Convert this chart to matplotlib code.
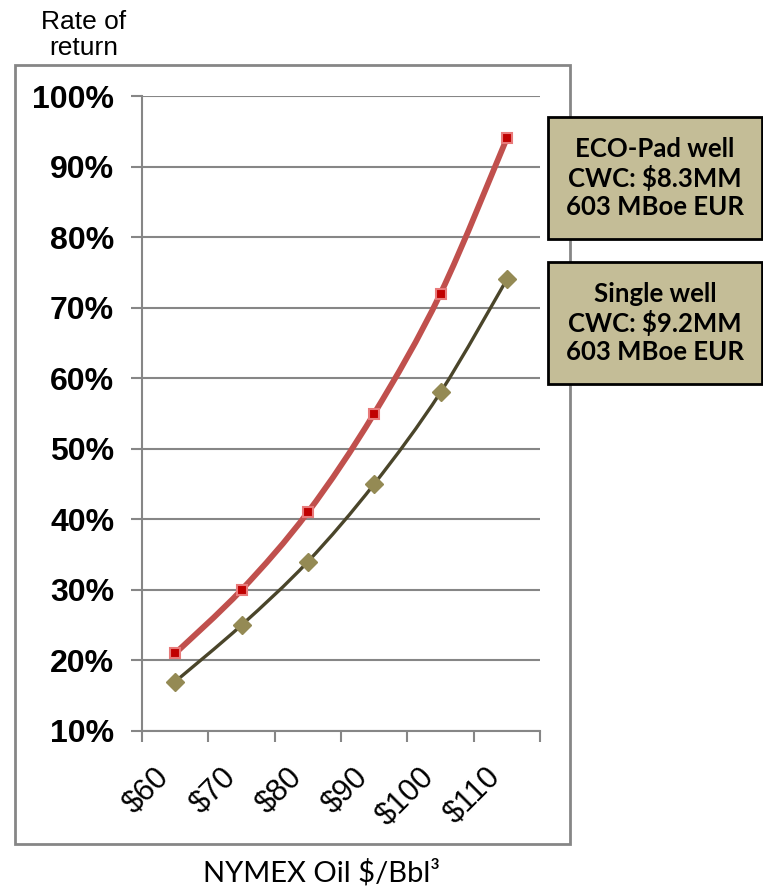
import numpy as np
import matplotlib
matplotlib.use('Agg')
from matplotlib import pyplot as plt
from matplotlib import ticker as mticker
from matplotlib import patches as mpatches
from matplotlib import transforms as mtransforms
from matplotlib.path import Path

# Chart data
prices     = ['$60', '$70', '$80', '$90', '$100', '$110']
eco_pad    = [21, 30, 41, 55, 72, 94]
single     = [17, 25, 34, 45, 58, 74]
box_labels = ['ECO-Pad well\nCWC: $8.3MM\n603 MBoe EUR',
              'Single well\nCWC: $9.2MM\n603 MBoe EUR']

def smooth_path(x, y):
    # Catmull-Rom style bezier through the points (like a spreadsheet "smoothed line")
    x = np.asarray(x, float); y = np.asarray(y, float)
    verts = [(x[0], y[0])]
    codes = [Path.MOVETO]
    n = len(x)
    for i in range(n - 1):
        p0 = (x[max(i - 1, 0)], y[max(i - 1, 0)])
        p1 = (x[i], y[i])
        p2 = (x[i + 1], y[i + 1])
        p3 = (x[min(i + 2, n - 1)], y[min(i + 2, n - 1)])
        c1 = (p1[0] + (p2[0] - p0[0]) / 6, p1[1] + (p2[1] - p0[1]) / 6)
        c2 = (p2[0] - (p3[0] - p1[0]) / 6, p2[1] - (p3[1] - p1[1]) / 6)
        verts += [c1, c2, p2]
        codes += [Path.CURVE4] * 3
    return Path(verts, codes)

def main():
    plt.rcParams['text.parse_math'] = False
    W, H = 763, 890
    fig = plt.figure(figsize=(W / 100, H / 100), dpi=100)
    ax = fig.add_axes([142 / W, 1 - 731 / H, (540 - 142) / W, (731 - 96) / H])

    grey = '#868686'
    x = np.arange(len(prices))

    # Outer chart border
    fig.patches.append(mpatches.Rectangle((15 / W, 1 - 844 / H), (570 - 15) / W, (844 - 65) / H,
                                          transform=fig.transFigure, fill=False,
                                          edgecolor=grey, linewidth=2))

    ax.set_xlim(-0.5, len(prices) - 0.5)
    ax.set_ylim(10, 100)
    ax.yaxis.set_major_locator(mticker.MultipleLocator(10))
    ax.yaxis.set_major_formatter(mticker.FuncFormatter(lambda v, p: '%d%%' % v))
    ax.grid(axis='y', color=grey, linewidth=1.5)
    ax.set_axisbelow(True)
    for s in ['top', 'right']:
        ax.spines[s].set_visible(False)
    for s in ['left', 'bottom']:
        ax.spines[s].set_color(grey)
        ax.spines[s].set_linewidth(1.5)

    ax.set_xticks(np.arange(-0.5, len(prices), 1.0))
    ax.set_xticklabels([])
    ax.set_xticks(x, minor=True)
    ax.set_xticklabels(prices, minor=True, rotation=45, ha='right',
                       fontsize=22, family='Liberation Sans')
    shift = mtransforms.ScaledTranslation(7 / 100, 0, fig.dpi_scale_trans)
    for lab in ax.xaxis.get_minorticklabels():
        lab.set_transform(lab.get_transform() + shift)
    ax.tick_params(axis='x', which='major', length=8, width=1.5, color=grey, direction='out')
    ax.tick_params(axis='x', which='minor', length=0, pad=22)
    ax.tick_params(axis='y', length=8, width=1.5, color=grey, pad=12)
    for lab in ax.get_yticklabels():
        lab.set_fontsize(23)
        lab.set_fontweight('bold')
        lab.set_family('Liberation Sans')

    # Smoothed lines
    ax.add_patch(mpatches.PathPatch(smooth_path(x, eco_pad), fill=False,
                                    edgecolor='#C0504D', linewidth=4.2, zorder=3))
    ax.add_patch(mpatches.PathPatch(smooth_path(x, single), fill=False,
                                    edgecolor='#4A452A', linewidth=2.4, zorder=3))
    ax.plot(x, single, linestyle='none', marker='D', markersize=9,
            markerfacecolor='#948A54', markeredgecolor='#948A54', zorder=4)
    ax.plot(x, eco_pad, linestyle='none', marker='s', markersize=6.5,
            markerfacecolor='#C00000', markeredgecolor='#E87A7A', markeredgewidth=1.5, zorder=4)

    # Axis titles
    fig.text(84 / W, 1 - 35 / H, 'Rate of\nreturn', ha='center', va='center',
             fontsize=19, family='Liberation Sans', linespacing=1.1)
    fig.text(321 / W, 1 - 873 / H, 'NYMEX Oil $/Bbl\u00b3', ha='center', va='center',
             fontsize=21, family='Lato')

    # Annotation boxes
    for lbl, (top, bot) in zip(box_labels, [(117, 239), (262, 384)]):
        fig.patches.append(mpatches.Rectangle((548 / W, 1 - bot / H), (762 - 548) / W, (bot - top) / H,
                                              transform=fig.transFigure, facecolor='#C4BD97',
                                              edgecolor='black', linewidth=2))
        fig.text(655 / W, 1 - (top + bot) / 2 / H, lbl, ha='center', va='center',
                 fontsize=18.5, fontweight='bold', family='Lato', linespacing=1.2)

    fig.savefig('out.png', dpi=100)

if __name__ == '__main__': main()
